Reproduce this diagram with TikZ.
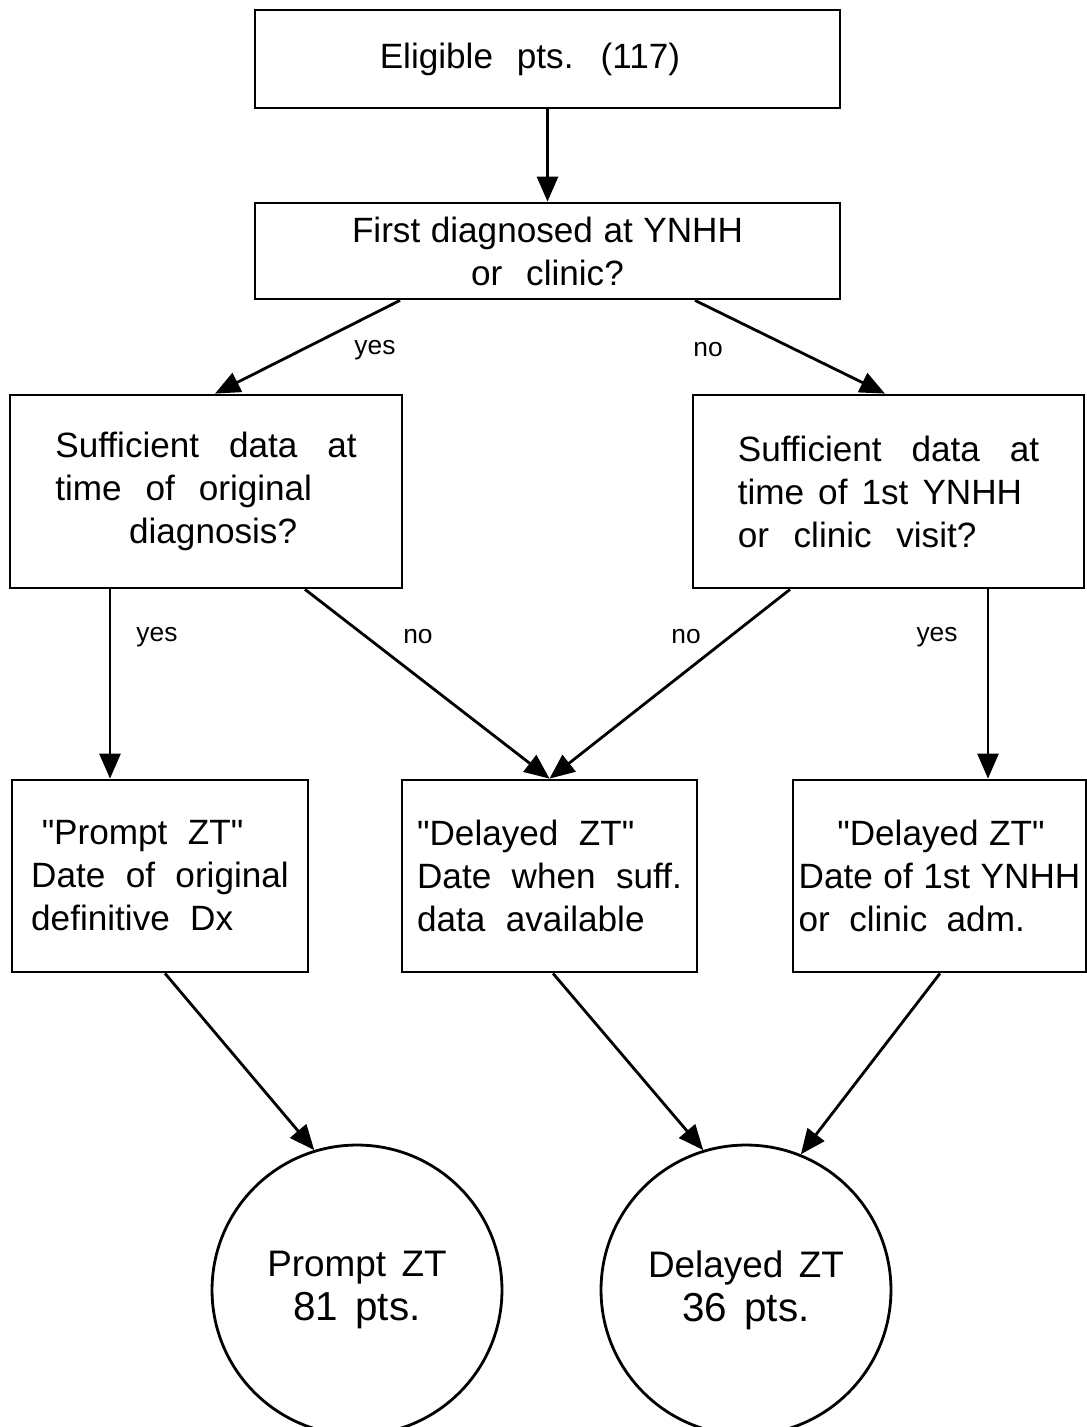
\documentclass[tikz,border=0pt]{standalone}
\usepackage{fontspec}
\setmainfont{Liberation Sans}[Ligatures=TeXOff]
\usetikzlibrary{arrows.meta,calc}

\newcommand{\widesp}{\spaceskip=0.68em plus 0.1em\relax}
\newcommand{\plainsp}{\spaceskip=0.3em plus 0.1em\relax}
\newcommand{\ringsp}{\spaceskip=0.42em plus 0.1em\relax}

\tikzset{
  box/.style={draw,line width=1.6pt,inner sep=0pt,align=left,
    font=\fontsize{20}{24.5}\selectfont\widesp},
  ring/.style={draw,circle,line width=1.6pt,minimum size=5.8cm,align=center,
    font=\fontsize{21}{25}\selectfont\ringsp},
  lbl/.style={font=\fontsize{15}{17}\selectfont},
  flow/.style={line width=1.6pt,-{Triangle[length=0.5cm,width=0.42cm]}}
}

\begin{document}
\begin{tikzpicture}
  [x=0.02cm,y=-0.02cm]
\useasboundingbox (0,0) rectangle (1086,1427);
\node (elig)[box,minimum width=11.7cm,minimum height=1.96cm] at (547.5,59) {Eligible pts. (117)\hspace*{0.7cm}};
  \node (first)[box,align=center,minimum width=11.7cm,minimum height=1.92cm] at (547.5,251)
    {\plainsp First diagnosed at YNHH\\or clinic?};
  \node (suffl)[box,minimum width=7.84cm,minimum height=3.86cm] at (206,491.5)
    {\spaceskip=0.85em\relax Sufficient data at\\time of original\\\hspace*{2.1em}diagnosis?};
  \node (suffr)[box,minimum width=7.82cm,minimum height=3.86cm] at (888.5,491.5)
    {\spaceskip=0.85em\relax Sufficient data at\\\spaceskip=0.4em\relax time of 1st YNHH\\\spaceskip=0.7em\relax or clinic visit?};
  \node (prompt)[box,minimum width=5.92cm,minimum height=3.84cm] at (160,876)
    {\spaceskip=0.58em\relax\hspace*{0.3em}"Prompt ZT"\\\spaceskip=0.58em\relax Date of original\\\spaceskip=0.58em\relax definitive Dx};
  \node (delmid)[box,minimum width=5.9cm,minimum height=3.84cm] at (549.5,876)
    {\spaceskip=0.58em\relax"Delayed ZT"\\\spaceskip=0.58em\relax Date when suff.\\\spaceskip=0.58em\relax data available};
  \node (delright)[box,minimum width=5.86cm,minimum height=3.84cm] at (939.5,876)
    {\plainsp\hspace*{1.1em}"Delayed ZT"\\\plainsp Date of 1st YNHH\\\spaceskip=0.55em\relax or clinic adm.};
  \node (pz)[ring] at (357,1290) {Prompt ZT\\{\fontsize{23}{25}\selectfont\ringsp 81 pts.}};
  \node (dz)[ring] at (746,1290) {Delayed ZT\\{\fontsize{23}{25}\selectfont\ringsp 36 pts.}};

  \node (y1)[lbl] at (375,350) {yes};
  \node (n1)[lbl] at (708,350) {no};
  \node (y2)[lbl] at (157,637) {yes};
  \node (n2)[lbl] at (418,637) {no};
  \node (n3)[lbl] at (686,637) {no};
  \node (y3)[lbl] at (937,637) {yes};

 \draw [flow] (elig) -- (first);
 \draw [flow] ($(first.south)+(-147.5,0)$) -- ($(suffl.north)+(9,0)$);
 \draw [flow] ($(first.south)+(147.5,0)$) -- ($(suffr.north)+(-3.5,0)$);
 \draw [flow] ($(suffl.south)+(-96,0)$) -- ($(prompt.north)+(-50,0)$);
 \draw [flow] ($(suffl.south)+(99,0)$) -- (delmid.north);
 \draw [flow] ($(suffr.south)+(-98.5,0)$) -- (delmid.north);
 \draw [flow] ($(suffr.south)+(99.5,0)$) -- ($(delright.north)+(48.5,0)$);
 \draw [flow] ($(prompt.south)+(5,0)$) -- (pz.107);
 \draw [flow] ($(delmid.south)+(3.5,0)$) -- (dz.107);
 \draw [flow] ($(delright.south)+(0.5,0)$) -- (dz.68);
\end{tikzpicture}
\end{document}
